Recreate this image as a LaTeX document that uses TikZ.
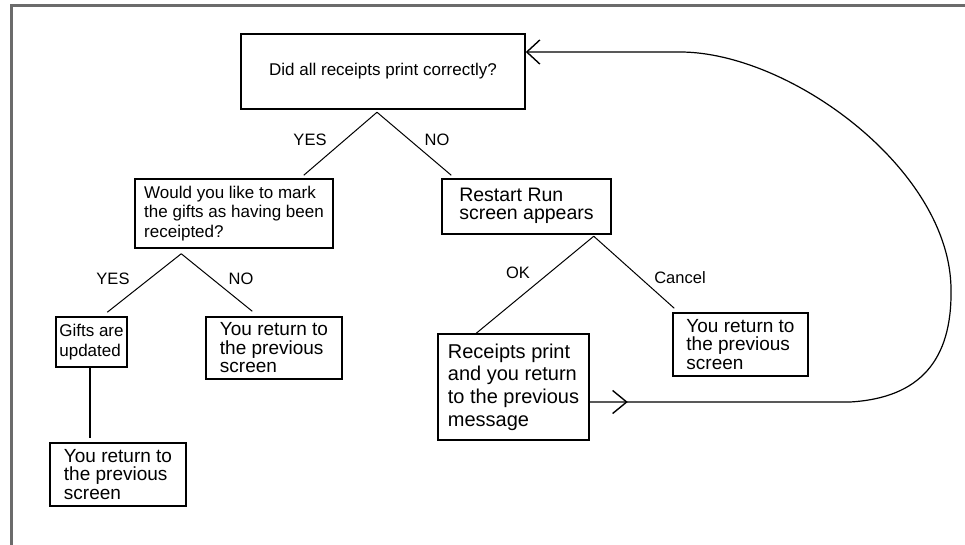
\documentclass[tikz,border=0pt]{standalone}
\usepackage{fontspec}
\setmainfont{Liberation Sans}
\usetikzlibrary{arrows.meta,decorations.markings,calc}

\begin{document}
\begin{tikzpicture}[x=1pt,y=-1pt,
  box/.style={draw=black, line width=1.5pt, inner sep=0pt, align=left},
  fa/.style={font=\fontsize{17}{19.5}\selectfont},
  fb/.style={font=\fontsize{19}{18.5}\selectfont},
  fc/.style={font=\fontsize{20}{22.7}\selectfont},
  fd/.style={font=\fontsize{19.5}{19}\selectfont},
  lbl/.style={font=\fontsize{16.5}{18}\selectfont, inner sep=0pt},
  conn/.style={draw=black, line width=1pt},
  loopline/.style={draw=black, line width=1.2pt},
  endbarb/.tip={Straight Barb[length=13pt,width=24pt,line width=1.4pt]},
  midbarb/.tip={Straight Barb[length=14pt,width=23pt,line width=1.4pt]}
]
\useasboundingbox (0,0) rectangle (965,545);
\fill[white] (0,0) rectangle (965,545);
% window frame
\draw[draw={rgb,255:red,107;green,107;blue,107}, line width=3pt] (11.5,545) -- (11.5,5.5) -- (965,5.5);

% boxes
\node[box, fa, align=center, minimum width=284pt, minimum height=75pt] (top) at (383,71.5) {Did all receipts print correctly?};
\node[box, fa, minimum width=198pt, minimum height=69pt] (would) at (234,213.5) {Would you like to mark\\the gifts as having been\\receipted?};
\node[box, fd, minimum width=169pt, minimum height=55pt] (restart) at (526.5,206.5) {\raisebox{3pt}{\begin{tabular}{@{}l@{}}Restart Run\\[-0.8pt]screen appears\end{tabular}}};
\node[box, font=\fontsize{17}{20}\selectfont, minimum width=71pt, minimum height=50pt] (gifts) at (91.5,342) {Gifts are\\updated};
\node[box, fb, minimum width=136pt, minimum height=62pt] (leftret) at (274,348) {You return to\\the previous\\screen};
\node[box, fb, minimum width=136pt, minimum height=63pt] (botret) at (118,474.5) {You return to\\the previous\\screen};
\node[box, fc, minimum width=151pt, minimum height=106pt] (receipts) at (513.5,387) {Receipts print\\and you return\\to the previous\\message};
\node[box, fb, minimum width=135pt, minimum height=63pt] (cancelret) at (740.5,344.5) {You return to\\the previous\\screen};

% labels
\node[lbl] (yes1) at (310,140) {YES};
\node[lbl] (no1) at (437,140) {NO};
\node[lbl] (yes2) at (113,279) {YES};
\node[lbl] (no2) at (241,279) {NO};
\node[lbl] (ok) at (518,273) {OK};
\node[lbl] (cancel) at (680,278) {Cancel};

% connectors
\coordinate (a1) at ([xshift=-6pt,yshift=-2.5pt]top.south);
\draw[conn] (a1) -- ([xshift=-30pt,yshift=3pt]would.north east);
\draw[conn] (a1) -- ([xshift=10pt,yshift=3pt]restart.north west);

\coordinate (a2) at ([xshift=47pt,yshift=-5pt]would.south west);
\draw[conn] (a2) -- ([xshift=52pt,yshift=4pt]gifts.north west);
\draw[conn] (a2) -- ([xshift=47pt,yshift=5pt]leftret.north west);

\draw[line width=1.4pt] ([xshift=-1.5pt]gifts.south) -- ($([xshift=-1.5pt]gifts.south |- botret.north)+(0,4pt)$);

\coordinate (a3) at ([xshift=-18pt,yshift=-1.5pt]restart.south east);
\draw[conn] (a3) -- ([xshift=39pt]receipts.north west);
\draw[conn] (a3) -- ([xshift=2pt,yshift=4pt]cancelret.north west);

% loop back
\coordinate (l1) at (850,402);
\coordinate (l2) at (951,290);
\coordinate (l3) at (680,52);
\draw[loopline, -{endbarb},
  postaction={decorate, decoration={markings, mark=at position 38pt with {\arrow{midbarb}}}}]
  ([yshift=-15pt]receipts.east) -- (l1)
  .. controls (920,398) and (952,360) .. (l2)
  .. controls (951,170) and (790,52) .. (l3)
  -- ([yshift=19.5pt]top.east);
\end{tikzpicture}
\end{document}
